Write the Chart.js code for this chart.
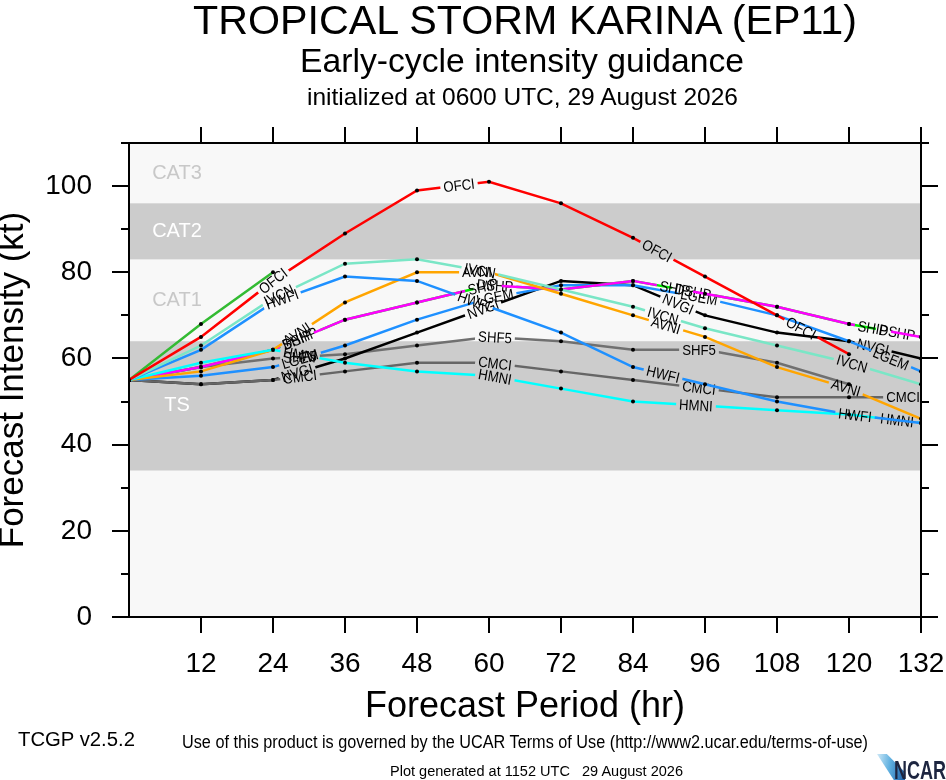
<!DOCTYPE html>
<html>
<head>
<meta charset="utf-8">
<script src="https://cdn.jsdelivr.net/npm/chart.js@4.4.1/dist/chart.umd.min.js"></script>
<style>
html, body { margin: 0; padding: 0; background: #fff; }
#wrap { position: relative; width: 946px; height: 780px; overflow: hidden; font-family: "Liberation Sans", Arial, sans-serif; }
#chart { position: absolute; left: 0; top: 0; }
.txt { position: absolute; white-space: nowrap; line-height: 1; color: #000; }
#ncar { font-weight: bold; color: #1d2540; }
#swoosh { position: absolute; left: 877px; top: 754px; width: 28px; height: 26px;
  background: linear-gradient(100deg, #cfe9f7 0%, #5fb0e0 45%, #1b5fa8 100%);
  clip-path: polygon(0% 0%, 35% 0%, 100% 70%, 100% 100%, 60% 100%); }
</style>
</head>
<body>
<div id="wrap">
  <canvas id="chart" width="946" height="780"></canvas>
  <div class="txt" id="title">TROPICAL STORM KARINA (EP11)</div>
  <div class="txt" id="subtitle">Early-cycle intensity guidance</div>
  <div class="txt" id="init">initialized at 0600 UTC, 29 August 2026</div>
  <div class="txt" id="terms">Use of this product is governed by the UCAR Terms of Use (http://www2.ucar.edu/terms-of-use)</div>
  <div class="txt" id="version">TCGP v2.5.2</div>
  <div class="txt" id="generated">Plot generated at 1152 UTC&nbsp;&nbsp; 29 August 2026</div>
  <div id="swoosh"></div>
  <div class="txt" id="ncar">NCAR</div>
</div>
<script>
// Data (kt) at each forecast hour

const hours = [0, 12, 24, 36, 48, 60, 72, 84, 96, 108, 120, 132];

const ofci = [55, 65, 78, 89, 99, 101, 96, 88, 79, 70, 61, null];
const ri25 = [55, 68, 80, null, null, null, null, null, null, null, null, null];
const ivcn = [55, 63, 74, 82, 83, 80, 76, 72, 67, 63, 59, 54];
const hwfi = [55, 62, 73, 79, 78, 72, 66, 58, 54, 50, 47, 45];
const hmni = [55, 59, 62, 59, 57, 56, 53, 50, 49, 48, 47, 45];
const avni = [55, 57, 62, 73, 80, 80, 75, 70, 65, 58, 53, 46];
const ship = [55, 58, 62, 69, 73, 77, 76, 78, 75, 72, 68, 65];
const dshp = [55, 58, 62, 69, 73, 77, 76, 78, 75, 72, 68, 65];
const lgem = [55, 56, 58, 63, 69, 74, 77, 77, 74, 70, 64, 57];
const cmci = [55, 54, 55, 57, 59, 59, 57, 55, 53, 51, 51, 51];
const nvgi = [55, 54, 55, 60, 66, 72, 78, 77, 70, 66, 64, 60];
const shf5 = [55, 58, 60, 61, 63, 65, 64, 62, 62, 59, 54, null];

const band_names = ['TS', 'CAT1', 'CAT2', 'CAT3'];
const band_lows = [34, 64, 83, 96];
const band_highs = [64, 83, 96, 137];

const period_ticks = [12, 24, 36, 48, 60, 72, 84, 96, 108, 120, 132];
const intensity_ticks = [0, 10, 20, 30, 40, 50, 60, 70, 80, 90, 100, 110];

// Models, first one is drawn on top

const models = [
    { name: 'OFCI', data: ofci, color: '#ff0000', label_hours: [24, 55, 88, 112] },
    { name: 'RI25', data: ri25, color: '#33bb33', label_hours: [] },
    { name: 'IVCN', data: ivcn, color: '#7ae6c6', label_hours: [25, 58.5, 89, 120.5] },
    { name: 'HWFI', data: hwfi, color: '#1e90ff', label_hours: [25.5, 57.5, 89, 121] },
    { name: 'HMNI', data: hmni, color: '#00ffff', label_hours: [28.5, 61, 94.5, 128] },
    { name: 'AVNI', data: avni, color: '#ffa500', label_hours: [28, 58, 89.5, 119.5] },
    { name: 'SHIP', data: ship, color: '#ff00ff', label_hours: [28, 59, 91, 124] },
    { name: 'DSHP', data: dshp, color: '#00ee00', label_hours: [28.5, 61, 94, 128] },
    { name: 'LGEM', data: lgem, color: '#1e90ff', label_hours: [28.5, 61, 95, 127] },
    { name: 'CMCI', data: cmci, color: '#666666', label_hours: [28.5, 61, 95, 129] },
    { name: 'NVGI', data: nvgi, color: '#000000', label_hours: [28, 59, 91.5, 124] },
    { name: 'SHF5', data: shf5, color: '#707070', label_hours: [28.5, 61, 95] }
];

const font_family = '"Liberation Sans", Arial, sans-serif';
Chart.defaults.font.family = font_family;
Chart.defaults.color = '#000';

const label_font = '15px ' + font_family;
const label_squeeze = 0.88;

function labelSpots(chart, model) {
    const xs = chart.scales.x, ys = chart.scales.y;
    return model.label_hours.map(h => {
        let i = 0;
        while (i < hours.length - 2 && h > hours[i + 1]) i++;
        const x0 = xs.getPixelForValue(hours[i]), x1 = xs.getPixelForValue(hours[i + 1]);
        const y0 = ys.getPixelForValue(model.data[i]), y1 = ys.getPixelForValue(model.data[i + 1]);
        const t = (h - hours[i]) / (hours[i + 1] - hours[i]);
        return { x: x0 + t * (x1 - x0), y: y0 + t * (y1 - y0), angle: Math.atan2(y1 - y0, x1 - x0) };
    });
}

// Plugins

const bands_plugin = {
    id: 'bands',
    beforeDatasetsDraw(chart) {
        const ctx = chart.ctx, a = chart.chartArea;
        const xs = chart.scales.x, ys = chart.scales.y;
        ctx.save();
        ctx.fillStyle = '#f8f8f8';
        ctx.fillRect(a.left, a.top, a.right - a.left, a.bottom - a.top);
        band_names.forEach((name, i) => {
            const hi = Math.min(band_highs[i], ys.max);
            const y_top = ys.getPixelForValue(hi), y_bot = ys.getPixelForValue(band_lows[i]);
            const gray = i % 2 === 0;
            if (gray) {
                ctx.fillStyle = '#cccccc';
                ctx.fillRect(a.left, y_top, a.right - a.left, y_bot - y_top);
            }
            ctx.fillStyle = gray ? '#ffffff' : '#c8c8c8';
            ctx.font = '20px ' + font_family;
            ctx.textAlign = 'center';
            ctx.textBaseline = 'middle';
            ctx.fillText(name, xs.getPixelForValue(8), (y_top + y_bot) / 2);
        });
        ctx.restore();
    }
};

const line_labels_plugin = {
    id: 'lineLabels',
    beforeDatasetDraw(chart, args) {
        const model = models[args.index];
        if (!model.label_hours.length) return;
        const ctx = chart.ctx;
        ctx.save();
        ctx.font = label_font;
        ctx.beginPath();
        ctx.rect(0, 0, chart.width, chart.height);
        labelSpots(chart, model).forEach(s => {
            const w = ctx.measureText(model.name).width * label_squeeze / 2 + 3;
            const h = 6;
            const c = Math.cos(s.angle), n = Math.sin(s.angle);
            const pts = [[-w, -h], [w, -h], [w, h], [-w, h]].map(p => [s.x + p[0] * c - p[1] * n, s.y + p[0] * n + p[1] * c]);
            ctx.moveTo(pts[0][0], pts[0][1]);
            pts.slice(1).forEach(p => ctx.lineTo(p[0], p[1]));
            ctx.closePath();
        });
        ctx.clip('evenodd');
    },
    afterDatasetDraw(chart, args) {
        const model = models[args.index];
        if (!model.label_hours.length) return;
        const ctx = chart.ctx;
        ctx.restore();
        labelSpots(chart, model).forEach(s => {
            ctx.save();
            ctx.translate(s.x, s.y);
            ctx.rotate(s.angle);
            ctx.scale(label_squeeze, 1);
            ctx.font = label_font;
            ctx.fillStyle = '#000';
            ctx.textAlign = 'center';
            ctx.textBaseline = 'middle';
            ctx.fillText(model.name, 0, 1);
            ctx.restore();
        });
    }
};

const frame_plugin = {
    id: 'frame',
    afterDraw(chart) {
        const ctx = chart.ctx, a = chart.chartArea;
        const xs = chart.scales.x, ys = chart.scales.y;
        ctx.save();
        ctx.strokeStyle = '#000';
        ctx.lineWidth = 2;
        ctx.strokeRect(a.left, a.top, a.right - a.left, a.bottom - a.top);
        ctx.beginPath();
        period_ticks.forEach(h => {
            const px = Math.round(xs.getPixelForValue(h));
            ctx.moveTo(px, a.bottom); ctx.lineTo(px, a.bottom + 16);
            ctx.moveTo(px, a.top); ctx.lineTo(px, a.top - 16);
        });
        intensity_ticks.forEach(v => {
            const py = Math.round(ys.getPixelForValue(v));
            const len = v % 20 === 0 ? 17 : 8;
            ctx.moveTo(a.left - len, py); ctx.lineTo(a.left, py);
            ctx.moveTo(a.right, py); ctx.lineTo(a.right + len, py);
        });
        ctx.stroke();
        ctx.restore();
    }
};

// Chart

const chart_canvas = document.getElementById('chart');

const intensity_chart = new Chart(chart_canvas, {
    type: 'line',
    data: {
        datasets: models.map(m => ({
            label: m.name,
            data: hours.map((h, i) => ({ x: h, y: m.data[i] })),
            borderColor: m.color,
            borderWidth: 2.5,
            pointRadius: 2,
            pointBorderWidth: 0,
            pointBackgroundColor: '#000',
            tension: 0,
            spanGaps: false
        }))
    },
    options: {
        responsive: false,
        animation: false,
        layout: { padding: { top: 143, right: 0, left: 0, bottom: 0 } },
        plugins: { legend: { display: false }, tooltip: { enabled: false } },
        scales: {
            x: {
                type: 'linear',
                min: 0,
                max: 132,
                afterFit: (s) => { s.height = 163; },
                grid: { display: false, drawTicks: false },
                border: { display: false },
                ticks: {
                    stepSize: 12,
                    autoSkip: false,
                    maxRotation: 0,
                    padding: 0,
                    // tall line box pushes the labels down without widening the side padding
                    font: { size: 28, lineHeight: 3.36 },
                    callback: (v) => v === 0 ? '' : v
                },
                title: {
                    display: true,
                    text: 'Forecast Period (hr)',
                    font: { size: 36 },
                    padding: { top: 0, bottom: 51 }
                }
            },
            y: {
                min: 0,
                max: 110,
                afterFit: (s) => { s.width = 129; },
                grid: { display: false, drawTicks: false },
                border: { display: false },
                ticks: {
                    stepSize: 20,
                    padding: 37,
                    font: { size: 28 },
                    callback: (v) => v % 20 === 0 ? v : ''
                },
                title: {
                    display: true,
                    text: 'Forecast Intensity (kt)',
                    font: { size: 35, lineHeight: 0.75 },
                    padding: { top: 0, bottom: 0 }
                }
            },
            y_right: {
                position: 'right',
                min: 0,
                max: 110,
                afterFit: (s) => { s.width = 25; },
                grid: { display: false, drawTicks: false },
                border: { display: false },
                ticks: { display: false }
            }
        }
    },
    plugins: [bands_plugin, line_labels_plugin, frame_plugin]
});

// Header and footer text, squeezed to the widths of the original

function place(id, opts) {
    const el = document.getElementById(id);
    el.style.fontSize = opts.size + 'px';
    const natural = el.getBoundingClientRect().width;
    const k = opts.width / natural;
    const left = opts.cx !== undefined ? opts.cx - opts.width / 2 : opts.left;
    el.style.left = left + 'px';
    el.style.top = (opts.base - 0.8465 * opts.size) + 'px';
    el.style.transformOrigin = 'left top';
    el.style.transform = 'scaleX(' + k + ')';
}

place('title', { cx: 525, base: 35, size: 41, width: 664 });
place('subtitle', { cx: 522, base: 72, size: 33, width: 444 });
place('init', { cx: 522, base: 105, size: 24, width: 431 });
place('terms', { cx: 525, base: 748, size: 18, width: 686 });
place('version', { left: 18, base: 746, size: 20.5, width: 117 });
place('generated', { cx: 536, base: 776, size: 14, width: 293 });
place('ncar', { left: 894, base: 779, size: 25, width: 52 });
</script>
</body>
</html>
